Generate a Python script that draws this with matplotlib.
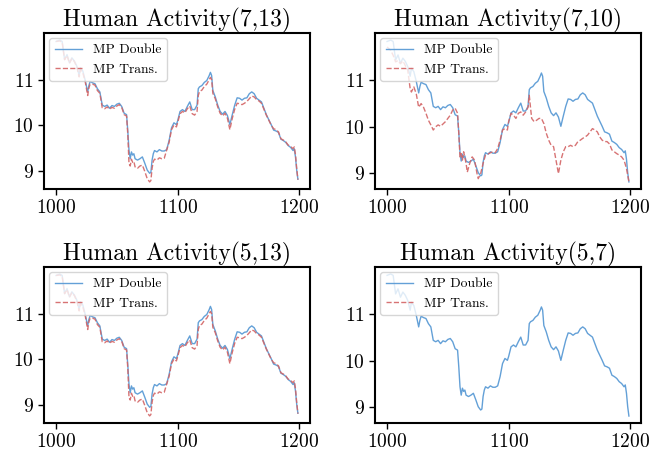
import matplotlib
matplotlib.use("Agg")
import matplotlib.pyplot as plt

plt.rcParams['font.family'] = 'serif'
plt.rcParams['font.serif'] = ['cmr10']
plt.rcParams['mathtext.fontset'] = 'cm'
plt.rcParams['axes.formatter.use_mathtext'] = True
plt.rcParams['axes.unicode_minus'] = False

titles = ["Human Activity(7,13)", "Human Activity(7,10)",
          "Human Activity(5,13)", "Human Activity(5,7)"]
labels = ["MP Double", "MP Trans."]
xticks = [1000, 1100, 1200]
yticks = [9, 10, 11]

x_d = [1000, 1003, 1005, 1007, 1009, 1011, 1013, 1015, 1017, 1019, 1020, 1022, 1024,
       1026, 1027, 1028, 1030, 1032, 1034, 1036, 1038, 1040, 1042, 1044, 1046, 1048,
       1050, 1052, 1054, 1056, 1058, 1059, 1060, 1061, 1062, 1063, 1064, 1065, 1067,
       1069, 1071, 1073, 1075, 1077, 1078, 1079, 1080, 1081, 1083, 1085, 1087, 1089,
       1091, 1093, 1095, 1097, 1099, 1100, 1102, 1104, 1106, 1108, 1110, 1112, 1114,
       1116, 1117, 1118, 1120, 1122, 1124, 1126, 1127, 1128, 1129, 1131, 1133, 1135,
       1137, 1139, 1141, 1143, 1145, 1147, 1149, 1151, 1153, 1155, 1157, 1159, 1161,
       1163, 1165, 1167, 1169, 1171, 1173, 1175, 1177, 1179, 1181, 1183, 1185, 1187,
       1189, 1191, 1193, 1195, 1196, 1197, 1198, 1199]

mp_double = [11.84, 11.87, 11.84, 11.44, 11.55, 11.37, 11.48, 11.41, 11.30, 11.09, 11.26,
             11.19, 10.98, 10.73, 10.87, 10.96, 10.93, 10.91, 10.80, 10.73, 10.44, 10.41,
             10.44, 10.37, 10.43, 10.41, 10.46, 10.48, 10.41, 10.26, 10.23, 9.87, 9.44,
             9.26, 9.41, 9.34, 9.37, 9.26, 9.23, 9.26, 9.30, 9.16, 9.01, 8.94, 8.96, 9.23,
             9.37, 9.44, 9.41, 9.46, 9.43, 9.43, 9.46, 9.66, 9.94, 10.05, 10.01, 10.09,
             10.30, 10.34, 10.30, 10.41, 10.51, 10.34, 10.34, 10.44, 10.80, 10.84, 10.87,
             10.94, 10.98, 11.09, 11.16, 11.09, 10.76, 10.62, 10.44, 10.30, 10.24, 10.30,
             10.21, 10.01, 10.23, 10.44, 10.60, 10.59, 10.55, 10.59, 10.60, 10.69, 10.73,
             10.69, 10.59, 10.55, 10.51, 10.37, 10.23, 10.12, 10.01, 9.89, 9.87, 9.84,
             9.69, 9.66, 9.62, 9.55, 9.51, 9.44, 9.48, 9.30, 9.01, 8.81]

mp_trans_713 = [11.84, 11.85, 11.82, 11.44, 11.53, 11.36, 11.46, 11.40, 11.28, 11.06, 11.22,
                11.15, 10.95, 10.65, 10.82, 10.90, 10.90, 10.88, 10.76, 10.70, 10.38, 10.36,
                10.40, 10.35, 10.39, 10.37, 10.42, 10.45, 10.39, 10.23, 10.20, 9.80, 9.15,
                9.10, 9.25, 9.18, 9.20, 9.08, 9.05, 9.10, 9.12, 8.98, 8.82, 8.75, 8.78, 9.05,
                9.20, 9.25, 9.23, 9.28, 9.26, 9.27, 9.45, 9.62, 9.90, 10.00, 9.96, 10.05,
                10.25, 10.30, 10.27, 10.36, 10.42, 10.25, 10.22, 10.30, 10.65, 10.74, 10.77,
                10.85, 10.90, 11.00, 11.05, 11.00, 10.70, 10.58, 10.40, 10.26, 10.20, 10.26,
                10.15, 9.90, 10.15, 10.35, 10.48, 10.47, 10.45, 10.48, 10.52, 10.58, 10.64,
                10.62, 10.56, 10.53, 10.48, 10.35, 10.22, 10.11, 10.00, 9.92, 9.90, 9.85,
                9.70, 9.67, 9.63, 9.56, 9.53, 9.48, 9.52, 9.35, 9.05, 8.80]

mp_trans_513 = mp_trans_713

x_t2 = [1000, 1003, 1005, 1007, 1009, 1011, 1013, 1015, 1017, 1019, 1020, 1022, 1024,
        1026, 1028, 1030, 1032, 1034, 1036, 1038, 1040, 1042, 1044, 1046, 1048, 1050,
        1052, 1054, 1056, 1058, 1059, 1060, 1061, 1062, 1063, 1065, 1066, 1068, 1070,
        1072, 1074, 1075, 1077, 1079, 1081, 1083, 1085, 1087, 1089, 1091, 1093, 1095,
        1097, 1099, 1100, 1102, 1104, 1106, 1108, 1110, 1112, 1114, 1116, 1117, 1118,
        1119, 1121, 1123, 1125, 1127, 1129, 1131, 1133, 1135, 1137, 1139, 1141, 1143,
        1145, 1147, 1149, 1151, 1153, 1155, 1157, 1159, 1161, 1163, 1165, 1167, 1169,
        1171, 1173, 1175, 1177, 1179, 1181, 1183, 1185, 1187, 1189, 1191, 1193, 1195,
        1197, 1199]

mp_trans_710 = [11.72, 11.65, 11.54, 11.40, 11.43, 11.36, 11.42, 11.32, 11.22, 10.82, 10.75,
                10.86, 10.71, 10.42, 10.50, 10.42, 10.29, 10.14, 10.04, 9.93, 10.00, 10.04,
                10.01, 10.06, 10.11, 10.18, 10.25, 10.36, 10.40, 10.29, 9.86, 9.35, 9.42,
                9.28, 9.46, 9.21, 9.02, 9.21, 9.35, 9.28, 8.99, 8.88, 8.99, 9.21, 9.39, 9.41,
                9.44, 9.46, 9.44, 9.53, 9.71, 9.93, 9.96, 9.93, 10.11, 10.29, 10.25, 10.18,
                10.29, 10.32, 10.25, 10.32, 10.42, 10.68, 10.42, 10.18, 10.11, 10.14, 10.18,
                10.18, 10.07, 9.86, 9.71, 9.60, 9.57, 9.28, 8.99, 9.28, 9.46, 9.57, 9.57,
                9.60, 9.57, 9.60, 9.68, 9.71, 9.75, 9.78, 9.82, 9.89, 9.96, 9.93, 9.89, 9.78,
                9.71, 9.68, 9.68, 9.63, 9.50, 9.46, 9.42, 9.39, 9.35, 9.28, 9.10, 8.81]

x_t4 = []
mp_trans_57 = []

trans_x = [x_d, x_t2, x_d, x_t4]
trans_y = [mp_trans_713, mp_trans_710, mp_trans_513, mp_trans_57]

blue = '#5B9BD5'
red = '#D36465'

fig = plt.figure(figsize=(6.7, 4.54), dpi=100)
W, H = 670.0, 454.0
boxes = [(44, 33, 310, 189), (375, 33, 641, 189),
         (44, 267, 310, 423), (375, 267, 641, 423)]

for i, (l, t, r, b) in enumerate(boxes):
    ax = fig.add_axes([l / W, 1 - b / H, (r - l) / W, (b - t) / H])
    ax.plot(x_d, mp_double, color=blue, lw=1.0, alpha=0.95, label=labels[0])
    ax.plot(trans_x[i], trans_y[i], color=red, lw=1.0, ls='--', alpha=0.9,
            label=labels[1])
    if i == 3:
        ax.set_ylim(8.66, 12.02)
    ax.set_xticks(xticks)
    ax.set_yticks(yticks)
    ax.tick_params(labelsize=14, width=1.0, length=4)
    for s in ax.spines.values():
        s.set_linewidth(1.5)
    ax.set_title(titles[i], fontsize=17, pad=3)
    ax.legend(loc='upper left', fontsize=9.8, handlelength=2.0,
              borderaxespad=0.4, framealpha=0.8)

fig.savefig('out.png', dpi=100)
